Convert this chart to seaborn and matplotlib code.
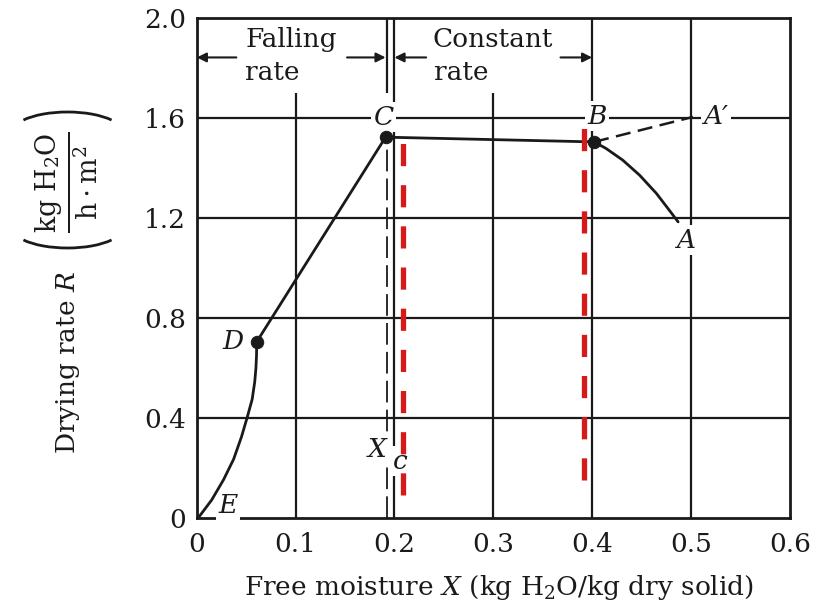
import numpy as np
import pandas as pd
import matplotlib
matplotlib.use("Agg")
import matplotlib.pyplot as plt
from matplotlib.patches import Arc
import seaborn as sns

# ---------------- data ----------------
x_ticks = [0, 0.1, 0.2, 0.3, 0.4, 0.5, 0.6]
x_tick_labels = ["0", "0.1", "0.2", "0.3", "0.4", "0.5", "0.6"]
y_ticks = [0, 0.4, 0.8, 1.2, 1.6, 2.0]
y_tick_labels = ["0", "0.4", "0.8", "1.2", "1.6", "2.0"]
y_minor = [0.2, 0.6, 1.0, 1.4, 1.8]

grid_x = [0.1, 0.2, 0.3, 0.4, 0.5]
grid_x_top = [1.70, 2.0, 1.70, 2.0, 2.0]
grid_y = [0.4, 0.8, 1.2, 1.6]

# initial period B -> A
init_X = [0.402, 0.414, 0.431, 0.448, 0.465, 0.478, 0.487]
init_R = [1.505, 1.479, 1.432, 1.372, 1.299, 1.232, 1.185]
# extrapolation B -> A' (dashed)
ext_X = [0.402, 0.502]
ext_R = [1.505, 1.605]
# constant rate B -> C
const_X = [0.402, 0.191]
const_R = [1.505, 1.524]
# falling rate C -> D (linear)
fall1_X = [0.191, 0.0606]
fall1_R = [1.524, 0.705]
# falling rate D -> E
fall2_X = [0.0606, 0.0604, 0.0598, 0.0586, 0.0560, 0.0510, 0.0452, 0.0372, 0.0270, 0.0150, 0.0013]
fall2_R = [0.705, 0.650, 0.600, 0.545, 0.475, 0.403, 0.325, 0.235, 0.153, 0.072, 0.0]

pt_names = ["C", "B", "D"]
pt_X = [0.191, 0.402, 0.0606]
pt_R = [1.524, 1.505, 0.705]

# critical moisture marker line
xc_X = [0.192, 0.192]
xc_R = [0.0, 1.524]
# red dashed markers
red1_X = [0.209, 0.209]
red1_R = [0.092, 1.524]
red2_X = [0.392, 0.392]
red2_R = [0.152, 1.585]

# ---------------- style ----------------
sns.set_theme(style="white")
plt.rcParams["font.family"] = ["DejaVu Serif"]
plt.rcParams["mathtext.fontset"] = "dejavuserif"

FS = 19
W, H = 834, 607
fig = plt.figure(figsize=(8.34, 6.07), dpi=100)
ax = fig.add_axes([0.236, 0.1466, 0.711, 0.8234])
ax.set_xlim(0, 0.6)
ax.set_ylim(0, 2.0)

LW = 1.6
INK = "#1a1a1a"

# grid
ax.vlines(grid_x, 0, grid_x_top, color=INK, lw=LW, zorder=1)
ax.hlines(grid_y, 0, 0.6, color=INK, lw=LW, zorder=1)
ax.vlines([0.192], 1.70, 2.0, color=INK, lw=LW, zorder=1)

# dashed critical line
ax.plot(xc_X, xc_R, color=INK, lw=1.3, dashes=(12, 4), zorder=2)

# curves
for xs, rs in [(init_X, init_R), (const_X, const_R),
               (fall1_X, fall1_R), (fall2_X, fall2_R)]:
    d = pd.DataFrame({"X": xs, "R": rs})
    sns.lineplot(data=d, x="X", y="R", sort=False, color=INK, lw=2.0, ax=ax, zorder=4)
d = pd.DataFrame({"X": ext_X, "R": ext_R})
sns.lineplot(data=d, x="X", y="R", sort=False, color=INK, lw=1.8, ax=ax, zorder=4)
ax.lines[-1].set_dashes((6, 3))
for ln in ax.lines:
    ln.set_solid_joinstyle("round")

sns.scatterplot(x=pt_X, y=pt_R, color=INK, s=80, ax=ax, zorder=5, edgecolor=INK)

# labels
lab_kw = dict(fontsize=FS, fontstyle="italic", ha="center", va="center", color=INK,
              zorder=3, bbox=dict(boxstyle="square,pad=0.1", fc="white", ec="none"))
ax.text(0.189, 1.604, "C", **lab_kw)
ax.text(0.405, 1.608, "B", **lab_kw)
ax.text(0.525, 1.606, "A\u2032", **lab_kw)
ax.text(0.494, 1.112, "A", **lab_kw)
ax.text(0.0365, 0.708, "D", **lab_kw)
ax.text(0.0315, 0.050, "E", **lab_kw)
ax.text(0.1825, 0.276, "X", **lab_kw)
ax.text(0.2056, 0.228, "c", **lab_kw)

# region annotations
txt_kw = dict(fontsize=FS, ha="left", va="baseline", color=INK, zorder=3,
              bbox=dict(boxstyle="square,pad=0.1", fc="white", ec="none"))
ax.text(0.049, 1.885, "Falling", **txt_kw)
ax.text(0.049, 1.752, "rate", **txt_kw)
ax.text(0.238, 1.885, "Constant", **txt_kw)
ax.text(0.240, 1.752, "rate", **txt_kw)

arr = dict(arrowstyle="-|>", color=INK, lw=1.5, mutation_scale=14, shrinkA=0, shrinkB=0)
ax.annotate("", xy=(0.0, 1.843), xytext=(0.040, 1.843), arrowprops=arr)
ax.annotate("", xy=(0.191, 1.843), xytext=(0.152, 1.843), arrowprops=arr)
ax.annotate("", xy=(0.200, 1.843), xytext=(0.232, 1.843), arrowprops=arr)
ax.annotate("", xy=(0.400, 1.843), xytext=(0.368, 1.843), arrowprops=arr)

# red dashed markers
for xs, rs in [(red1_X, red1_R), (red2_X, red2_R)]:
    ax.plot(xs, rs, color="#d61a1a", lw=3.8, dashes=(4.2, 3.6), zorder=6,
            solid_capstyle="butt", dash_capstyle="butt")

# axes
for s in ax.spines.values():
    s.set_color(INK)
    s.set_linewidth(2.0)
ax.set_xticks(x_ticks)
ax.set_xticklabels(x_tick_labels)
ax.set_yticks(y_ticks)
ax.set_yticklabels(y_tick_labels)
ax.set_yticks(y_minor, minor=True)
ax.tick_params(axis="y", which="major", length=0, labelsize=FS, colors=INK, pad=8)
ax.tick_params(axis="x", which="major", length=0, labelsize=FS, colors=INK, pad=10)
ax.tick_params(axis="y", which="minor", direction="in", length=6, width=1.4, color=INK)
ax.set_xlabel("")
ax.set_ylabel("")
fig.text(0.598, (H - 588) / H, r"Free moisture $X$ (kg H$_2$O/kg dry solid)",
         fontsize=FS, color=INK, ha="center", va="center")
fig.text(68 / W, (H - 362) / H, r"Drying rate $R$",
         fontsize=FS, color=INK, ha="center", va="center", rotation=90)
fig.text(67 / W, (H - 182) / H,
         r"$\frac{\mathrm{kg\ H_2O}}{\mathrm{h\cdot m^2}}$",
         fontsize=FS * 1.45, color=INK, ha="center", va="center", rotation=90)
# large parentheses (rotated) around the unit fraction
fig.add_artist(Arc((67.5 / W, (H - 133) / H), 112 / W, 42 / H, theta1=22, theta2=158,
                   transform=fig.transFigure, color=INK, lw=2.0))
fig.add_artist(Arc((67.5 / W, (H - 227) / H), 112 / W, 42 / H, theta1=202, theta2=338,
                   transform=fig.transFigure, color=INK, lw=2.0))

fig.savefig("out.png", dpi=100, facecolor="white")
